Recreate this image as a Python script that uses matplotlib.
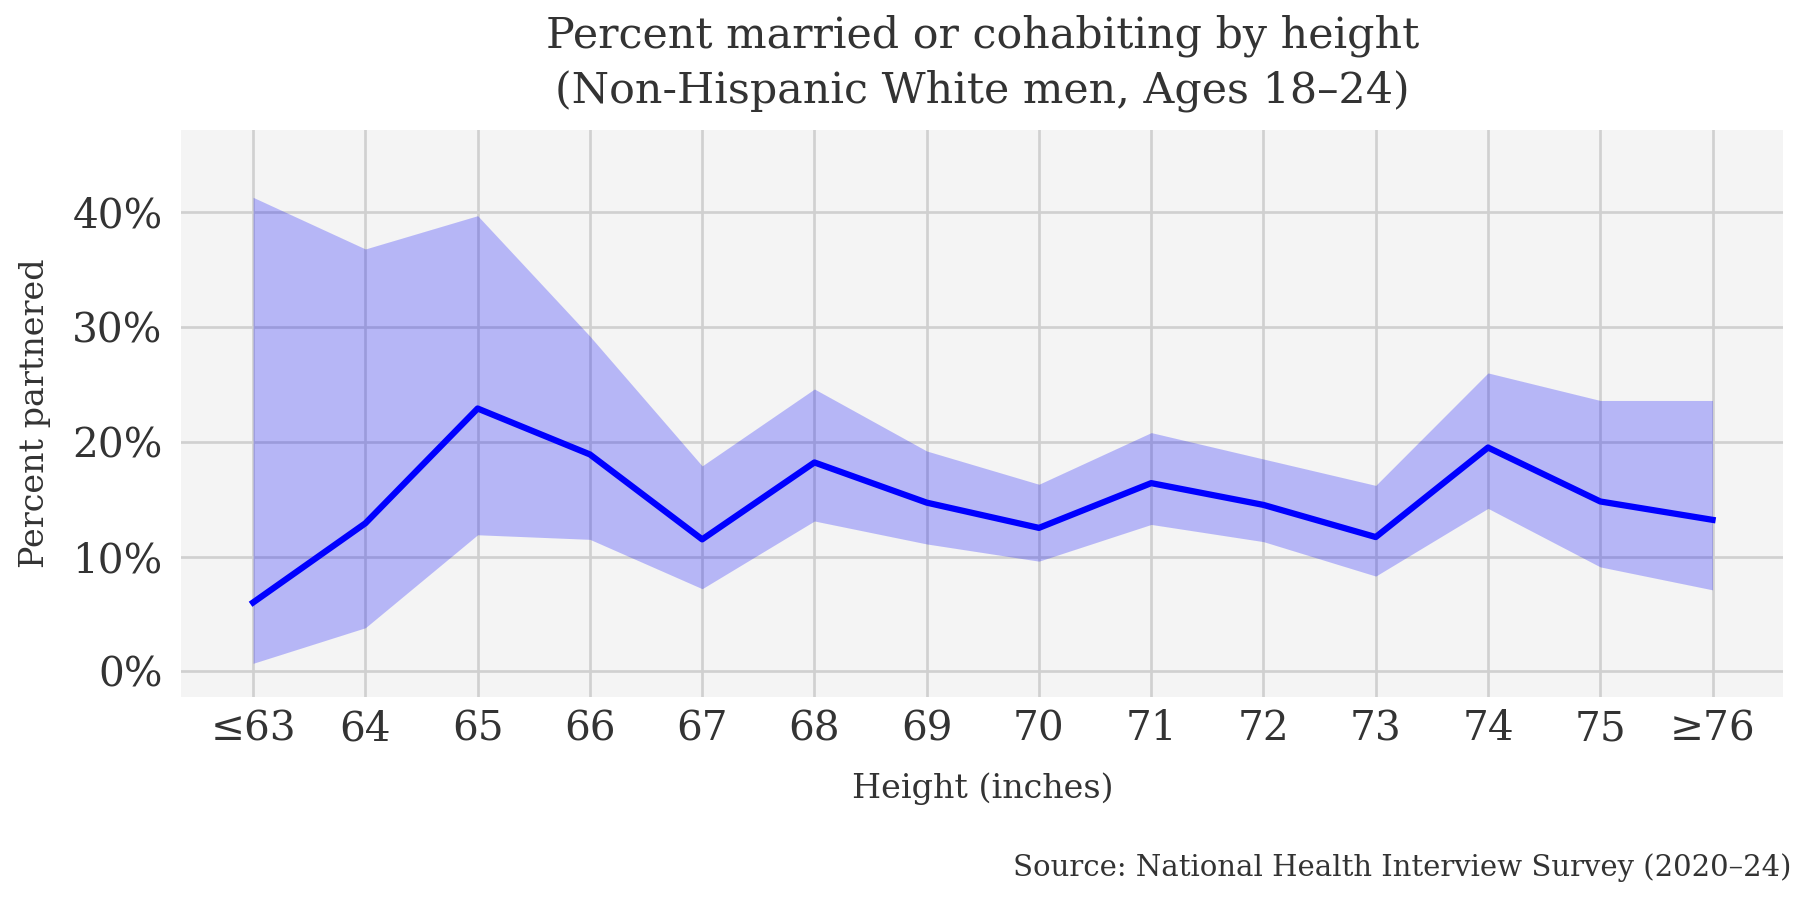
import matplotlib
matplotlib.use("Agg")
import matplotlib.pyplot as plt
import numpy as np

# Height categories (inches) and percent partnered with 95% CI bounds
heights = ["≤63", "64", "65", "66", "67", "68", "69", "70", "71", "72", "73", "74", "75", "≥76"]
pct = [6.0, 12.9, 22.9, 18.9, 11.5, 18.2, 14.7, 12.5, 16.4, 14.5, 11.7, 19.5, 14.8, 13.2]
upper = [41.3, 36.8, 39.7, 29.2, 17.9, 24.6, 19.2, 16.3, 20.8, 18.5, 16.2, 26.0, 23.6, 23.6]
lower = [0.7, 3.8, 11.9, 11.5, 7.2, 13.1, 11.1, 9.6, 12.8, 11.3, 8.3, 14.2, 9.1, 7.1]
yticks = [0, 10, 20, 30, 40]

plt.rcParams['font.family'] = ['DejaVu Serif']
txt = '#333333'

fig = plt.figure(figsize=(12, 6), dpi=150)
ax = fig.add_axes([0.1007, 0.226, 0.890, 0.630])
ax.set_facecolor('#f4f4f4')

x = np.arange(len(heights))
ax.fill_between(x, lower, upper, color='blue', alpha=0.25, linewidth=0, zorder=2)
ax.plot(x, pct, color='blue', linewidth=3.0, zorder=3)

ax.set_xlim(-0.64, len(heights) - 1 + 0.63)
ax.set_ylim(-2.2, 47.2)
ax.set_xticks(x)
ax.set_xticklabels(heights)
ax.set_yticks(yticks)
ax.set_yticklabels([f"{v}%" for v in yticks])

ax.grid(True, color='#d0d0d0', linewidth=1.3, zorder=1)
ax.set_axisbelow(True)
for s in ax.spines.values():
    s.set_visible(False)
ax.tick_params(length=0, labelsize=19.5, colors=txt)
ax.tick_params(axis='x', pad=6)
ax.tick_params(axis='y', pad=9)

ax.set_xlabel("Height (inches)", fontsize=16, color=txt, labelpad=11)
ax.set_ylabel("Percent partnered", fontsize=16, color=txt, labelpad=10)
ax.set_title("Percent married or cohabiting by height\n(Non-Hispanic White men, Ages 18–24)",
             fontsize=20.5, color=txt, pad=13, linespacing=1.38)

fig.text(0.995, 0.036, "Source: National Health Interview Survey (2020–24)",
         ha='right', va='center', fontsize=14, color=txt)

fig.savefig("out.png", dpi=150, facecolor='white')
